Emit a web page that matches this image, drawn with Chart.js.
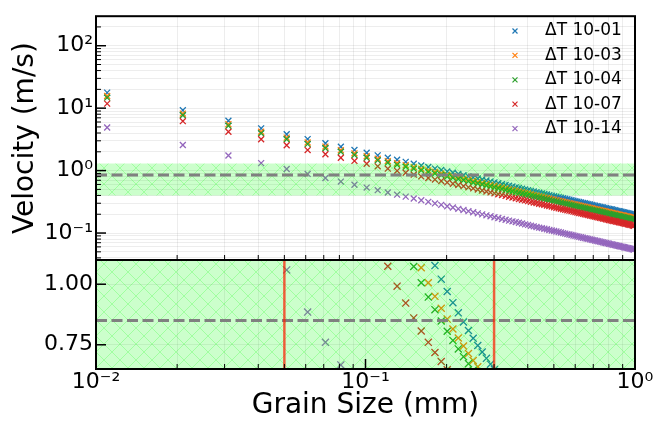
<!DOCTYPE html>
<html>
<head>
<meta charset="utf-8">
<script src="https://cdn.jsdelivr.net/npm/chart.js@4.4.1/dist/chart.umd.min.js"></script>
<style>
  body { margin: 0; background: #fff; }
  #wrap { position: relative; width: 670px; height: 426px; }
  canvas { position: absolute; left: 0; top: 0; }
</style>
</head>
<body>
<div id="wrap">
  <canvas id="top-chart" width="670" height="426"></canvas>
  <canvas id="zoom-chart" width="670" height="426"></canvas>
</div>
<script>
// grain size (mm) and settling velocity (m/s) per run
const grainSize = [
  0.011, 0.021, 0.031, 0.041, 0.051, 0.061, 0.071, 0.081, 0.091, 0.101,
  0.111, 0.121, 0.131, 0.141, 0.151, 0.161, 0.171, 0.181, 0.191, 0.201,
  0.211, 0.221, 0.231, 0.241, 0.251, 0.261, 0.271, 0.281, 0.291, 0.301,
  0.311, 0.321, 0.331, 0.341, 0.351, 0.361, 0.371, 0.381, 0.391, 0.401,
  0.411, 0.421, 0.431, 0.441, 0.451, 0.461, 0.471, 0.481, 0.491, 0.501,
  0.511, 0.521, 0.531, 0.541, 0.551, 0.561, 0.571, 0.581, 0.591, 0.601,
  0.611, 0.621, 0.631, 0.641, 0.651, 0.661, 0.671, 0.681, 0.691, 0.701,
  0.711, 0.721, 0.731, 0.741, 0.751, 0.761, 0.771, 0.781, 0.791, 0.801,
  0.811, 0.821, 0.831, 0.841, 0.851, 0.861, 0.871, 0.881, 0.891, 0.901,
  0.911, 0.921, 0.931, 0.941, 0.951, 0.961, 0.971, 0.981, 0.991
];

const vel1001 = [
  17.73, 9.286, 6.291, 4.756, 3.824, 3.196, 2.746, 2.408, 2.143, 1.931,
  1.757, 1.611, 1.489, 1.383, 1.291, 1.211, 1.140, 1.077, 1.021, 0.970,
  0.924, 0.882, 0.844, 0.809, 0.777, 0.747, 0.720, 0.694, 0.670, 0.648,
  0.627, 0.607, 0.589, 0.572, 0.556, 0.540, 0.526, 0.512, 0.499, 0.486,
  0.474, 0.463, 0.452, 0.442, 0.432, 0.423, 0.414, 0.405, 0.397, 0.389,
  0.382, 0.374, 0.367, 0.360, 0.354, 0.348, 0.341, 0.336, 0.330, 0.324,
  0.319, 0.314, 0.309, 0.304, 0.300, 0.295, 0.291, 0.286, 0.282, 0.278,
  0.274, 0.270, 0.267, 0.263, 0.260, 0.256, 0.253, 0.250, 0.246, 0.243,
  0.240, 0.238, 0.235, 0.232, 0.229, 0.226, 0.224, 0.221, 0.219, 0.216,
  0.214, 0.212, 0.209, 0.207, 0.205, 0.203, 0.201, 0.199, 0.197
];

const vel1003 = [
  15.64, 8.190, 5.550, 4.195, 3.373, 2.819, 2.422, 2.124, 1.890, 1.703,
  1.550, 1.421, 1.313, 1.220, 1.139, 1.068, 1.006, 0.950, 0.901, 0.856,
  0.815, 0.778, 0.745, 0.714, 0.685, 0.659, 0.635, 0.612, 0.591, 0.571,
  0.553, 0.536, 0.520, 0.504, 0.490, 0.476, 0.464, 0.452, 0.440, 0.429,
  0.418, 0.409, 0.399, 0.390, 0.381, 0.373, 0.365, 0.358, 0.350, 0.343,
  0.337, 0.330, 0.324, 0.318, 0.312, 0.307, 0.301, 0.296, 0.291, 0.286,
  0.282, 0.277, 0.273, 0.268, 0.264, 0.260, 0.256, 0.252, 0.249, 0.245,
  0.242, 0.239, 0.235, 0.232, 0.229, 0.226, 0.223, 0.220, 0.217, 0.215,
  0.212, 0.209, 0.207, 0.205, 0.202, 0.200, 0.197, 0.195, 0.193, 0.191,
  0.189, 0.187, 0.185, 0.183, 0.181, 0.179, 0.177, 0.175, 0.174
];

const vel1004 = [
  14.73, 7.710, 5.230, 3.951, 3.177, 2.655, 2.281, 2.001, 1.780, 1.604,
  1.459, 1.339, 1.237, 1.149, 1.073, 1.006, 0.947, 0.895, 0.848, 0.806,
  0.768, 0.733, 0.701, 0.672, 0.645, 0.621, 0.598, 0.577, 0.557, 0.538,
  0.521, 0.505, 0.489, 0.475, 0.462, 0.449, 0.437, 0.425, 0.414, 0.404,
  0.394, 0.385, 0.376, 0.367, 0.359, 0.351, 0.344, 0.337, 0.330, 0.323,
  0.317, 0.311, 0.305, 0.299, 0.294, 0.289, 0.284, 0.279, 0.274, 0.270,
  0.265, 0.261, 0.257, 0.253, 0.249, 0.245, 0.241, 0.238, 0.234, 0.231,
  0.228, 0.225, 0.222, 0.219, 0.216, 0.213, 0.210, 0.207, 0.205, 0.202,
  0.200, 0.197, 0.195, 0.193, 0.190, 0.188, 0.186, 0.184, 0.182, 0.180,
  0.178, 0.176, 0.174, 0.172, 0.170, 0.169, 0.167, 0.165, 0.163
];

const vel1007 = [
  11.82, 6.190, 4.190, 3.171, 2.549, 2.131, 1.830, 1.606, 1.429, 1.287,
  1.171, 1.074, 0.992, 0.922, 0.861, 0.807, 0.760, 0.718, 0.681, 0.647,
  0.616, 0.588, 0.563, 0.539, 0.518, 0.498, 0.480, 0.463, 0.447, 0.432,
  0.418, 0.405, 0.393, 0.381, 0.370, 0.360, 0.350, 0.341, 0.333, 0.324,
  0.316, 0.309, 0.302, 0.295, 0.288, 0.282, 0.276, 0.270, 0.265, 0.259,
  0.254, 0.249, 0.245, 0.240, 0.236, 0.232, 0.228, 0.224, 0.220, 0.216,
  0.213, 0.209, 0.206, 0.203, 0.200, 0.197, 0.194, 0.191, 0.188, 0.186,
  0.183, 0.180, 0.178, 0.176, 0.173, 0.171, 0.169, 0.166, 0.164, 0.162,
  0.160, 0.158, 0.156, 0.155, 0.153, 0.151, 0.149, 0.148, 0.146, 0.144,
  0.143, 0.141, 0.140, 0.138, 0.137, 0.135, 0.134, 0.132, 0.131
];

const vel1014 = [
  4.910, 2.571, 1.742, 1.317, 1.059, 0.885, 0.760, 0.667, 0.593, 0.535,
  0.486, 0.446, 0.412, 0.383, 0.358, 0.335, 0.316, 0.298, 0.283, 0.269,
  0.256, 0.244, 0.234, 0.224, 0.215, 0.207, 0.199, 0.192, 0.186, 0.179,
  0.174, 0.168, 0.163, 0.158, 0.154, 0.150, 0.146, 0.142, 0.138, 0.135,
  0.131, 0.128, 0.125, 0.122, 0.120, 0.117, 0.115, 0.112, 0.110, 0.108,
  0.106, 0.104, 0.102, 0.0998, 0.0980, 0.0963, 0.0946, 0.0929, 0.0914, 0.0899,
  0.0884, 0.0869, 0.0856, 0.0842, 0.0829, 0.0817, 0.0805, 0.0793, 0.0781, 0.0771,
  0.0759, 0.0749, 0.0739, 0.0729, 0.0719, 0.0710, 0.0700, 0.0691, 0.0683, 0.0674,
  0.0666, 0.0658, 0.0650, 0.0642, 0.0635, 0.0627, 0.0620, 0.0613, 0.0606, 0.0599,
  0.0593, 0.0586, 0.0580, 0.0574, 0.0568, 0.0562, 0.0556, 0.0550, 0.0545
];

const seriesNames = ['ΔT 10-01', 'ΔT 10-03', 'ΔT 10-04', 'ΔT 10-07', 'ΔT 10-14'];
const seriesValues = [vel1001, vel1003, vel1004, vel1007, vel1014];
const seriesColors = ['#1f77b4', '#ff7f0e', '#2ca02c', '#d62728', '#9467bd'];

// reference level and its band, grain size limits
const meanVelocity = 0.85;
const velocityBand = [0.4, 1.3];
const grainLimits = [0.05, 0.3];

// axis ranges and tick labels
const xRange = [0.01, 1];
const xTickValues = [0.01, 0.1, 1];
const xTickLabels = ['10⁻²', '10⁻¹', '10⁰'];
const yTopRange = [0.037, 297];
const yTopTickValues = [0.1, 1, 10, 100];
const yTopTickLabels = ['10⁻¹', '10⁰', '10¹', '10²'];
const yZoomRange = [0.65, 1.1];
const yZoomTickValues = [0.75, 1.00];
const yZoomTickLabels = ['0.75', '1.00'];

Chart.defaults.font.family = "'DejaVu Sans', sans-serif";
Chart.defaults.color = '#000';
Chart.defaults.animation = false;
Chart.defaults.plugins.legend.display = false;
Chart.defaults.plugins.tooltip.enabled = false;

const gridColor = 'rgba(0,0,0,0.07)';

function logTicks(min, max) {
  const out = [];
  for (let e = -3; e <= 3; e++) {
    for (let m = 1; m <= 9; m++) {
      const v = m * Math.pow(10, e);
      if (v >= min * 0.9999 && v <= max * 1.0001) out.push({ value: v, major: m === 1 });
    }
  }
  return out;
}

function labelFor(value, values, labels) {
  const i = values.findIndex(v => Math.abs(value / v - 1) < 1e-6);
  return i < 0 ? '' : labels[i];
}

function hatch() {
  const size = 16;
  const c = document.createElement('canvas');
  c.width = size;
  c.height = size;
  const g = c.getContext('2d');
  g.fillStyle = 'rgba(0,255,0,0.2)';
  g.fillRect(0, 0, size, size);
  g.strokeStyle = 'rgba(0,255,0,0.22)';
  g.lineWidth = 1;
  g.beginPath();
  g.moveTo(0, 0); g.lineTo(size, size);
  g.moveTo(0, size); g.lineTo(size, 0);
  g.stroke();
  return g.createPattern(c, 'repeat');
}

function pointSets(radius) {
  return seriesNames.map((name, i) => ({
    type: 'scatter',
    label: name,
    data: grainSize.map((d, j) => ({ x: d, y: seriesValues[i][j] })),
    pointStyle: 'crossRot',
    pointRadius: radius,
    pointBorderWidth: 1.3,
    borderColor: seriesColors[i],
    backgroundColor: seriesColors[i],
    showLine: false,
    order: 20 - i
  }));
}

function overlaySets(yRange, withLimits) {
  const sets = [
    {
      type: 'line',
      data: [{ x: xRange[0], y: velocityBand[1] }, { x: xRange[1], y: velocityBand[1] }],
      fill: { value: velocityBand[0] },
      backgroundColor: hatch(),
      borderWidth: 0,
      pointRadius: 0,
      order: 5
    },
    {
      type: 'line',
      data: [{ x: xRange[0], y: meanVelocity }, { x: xRange[1], y: meanVelocity }],
      borderColor: '#808080',
      borderWidth: 3,
      borderDash: [11, 4.5],
      pointRadius: 0,
      fill: false,
      order: 2
    }
  ];
  if (withLimits) {
    grainLimits.forEach(g => sets.push({
      type: 'line',
      data: [{ x: g, y: yRange[0] }, { x: g, y: yRange[1] }],
      borderColor: 'rgba(255,30,0,0.7)',
      borderWidth: 2.5,
      pointRadius: 0,
      fill: false,
      order: 1
    }));
  }
  return sets;
}

// inward ticks and the box around each panel
const framePlugin = {
  id: 'frame',
  afterDraw(chart, args, opts) {
    const { ctx, chartArea: a } = chart;
    const xs = chart.scales.x, ys = chart.scales.y;
    ctx.save();
    ctx.strokeStyle = '#000';
    xs.ticks.forEach(t => {
      const len = t.major ? opts.xMajor : opts.xMinor;
      const p = xs.getPixelForValue(t.value);
      if (!len || p <= a.left + 1 || p >= a.right - 1) return;
      ctx.lineWidth = t.major ? 1.5 : 1;
      ctx.beginPath();
      ctx.moveTo(p, a.bottom);
      ctx.lineTo(p, a.bottom - len);
      ctx.stroke();
    });
    ys.ticks.forEach(t => {
      const len = t.major ? opts.yMajor : opts.yMinor;
      const p = ys.getPixelForValue(t.value);
      if (!len || p <= a.top + 1 || p >= a.bottom - 1) return;
      ctx.lineWidth = t.major ? 1.5 : 1;
      ctx.beginPath();
      ctx.moveTo(a.left, p);
      ctx.lineTo(a.left + len, p);
      ctx.stroke();
    });
    ctx.lineWidth = 2;
    ctx.strokeRect(a.left, a.top, a.right - a.left, a.bottom - a.top);
    ctx.restore();
  }
};

const legendPlugin = {
  id: 'seriesKey',
  afterDraw(chart) {
    const ctx = chart.ctx;
    ctx.save();
    ctx.font = "17px 'DejaVu Sans'";
    ctx.textBaseline = 'middle';
    ctx.textAlign = 'left';
    seriesNames.forEach((name, i) => {
      const y = 31 + i * 24.4;
      ctx.strokeStyle = seriesColors[i];
      ctx.lineWidth = 1.2;
      ctx.beginPath();
      ctx.moveTo(512.5, y - 2.5); ctx.lineTo(517.5, y + 2.5);
      ctx.moveTo(512.5, y + 2.5); ctx.lineTo(517.5, y - 2.5);
      ctx.stroke();
      ctx.fillStyle = '#000';
      ctx.fillText(name, 545, y);
    });
    ctx.restore();
  }
};

const topChart = new Chart(document.getElementById('top-chart'), {
  type: 'scatter',
  data: { datasets: [...pointSets(4.2), ...overlaySets(yTopRange, false)] },
  options: {
    responsive: false,
    layout: { padding: { top: 7, right: 35, bottom: 166, left: 0 } },
    scales: {
      x: {
        type: 'logarithmic',
        min: xRange[0],
        max: xRange[1],
        afterBuildTicks: s => { s.ticks = logTicks(xRange[0], xRange[1]); },
        afterFit: s => { s.height = 0; },
        ticks: { display: false },
        grid: { color: gridColor, drawTicks: false },
        border: { display: false }
      },
      y: {
        type: 'logarithmic',
        min: yTopRange[0],
        max: yTopRange[1],
        afterBuildTicks: s => { s.ticks = logTicks(yTopRange[0], yTopRange[1]); },
        afterFit: s => { s.width = 96; },
        ticks: {
          autoSkip: false,
          padding: 3,
          font: { size: 22 },
          callback: v => labelFor(v, yTopTickValues, yTopTickLabels)
        },
        grid: { color: gridColor, drawTicks: false },
        border: { display: false },
        title: {
          display: true,
          text: 'Velocity (m/s)',
          font: { size: 28 },
          padding: { top: 9, bottom: 0 }
        }
      }
    },
    plugins: { frame: { xMajor: 0, xMinor: 5, yMajor: 10, yMinor: 5 } }
  },
  plugins: [framePlugin, legendPlugin]
});

const zoomChart = new Chart(document.getElementById('zoom-chart'), {
  type: 'scatter',
  data: { datasets: [...pointSets(5), ...overlaySets(yZoomRange, true)] },
  options: {
    responsive: false,
    layout: { padding: { top: 260, right: 35, bottom: 0, left: 0 } },
    scales: {
      x: {
        type: 'logarithmic',
        min: xRange[0],
        max: xRange[1],
        afterBuildTicks: s => { s.ticks = logTicks(xRange[0], xRange[1]); },
        afterFit: s => { s.height = 57; },
        ticks: {
          autoSkip: false,
          maxRotation: 0,
          padding: 0,
          font: { size: 22 },
          callback: v => labelFor(v, xTickValues, xTickLabels)
        },
        grid: { color: gridColor, drawTicks: false },
        border: { display: false },
        title: {
          display: true,
          text: 'Grain Size (mm)',
          font: { size: 28 },
          padding: { top: 0, bottom: 3 }
        }
      },
      y: {
        type: 'linear',
        min: yZoomRange[0],
        max: yZoomRange[1],
        afterBuildTicks: s => { s.ticks = yZoomTickValues.map(v => ({ value: v, major: true })); },
        afterFit: s => { s.width = 96; },
        ticks: {
          autoSkip: false,
          padding: 3,
          font: { size: 22 },
          callback: v => labelFor(v, yZoomTickValues, yZoomTickLabels)
        },
        grid: { color: gridColor, drawTicks: false },
        border: { display: false }
      }
    },
    plugins: { frame: { xMajor: 10, xMinor: 5, yMajor: 10, yMinor: 0 } }
  },
  plugins: [framePlugin]
});
</script>
</body>
</html>
